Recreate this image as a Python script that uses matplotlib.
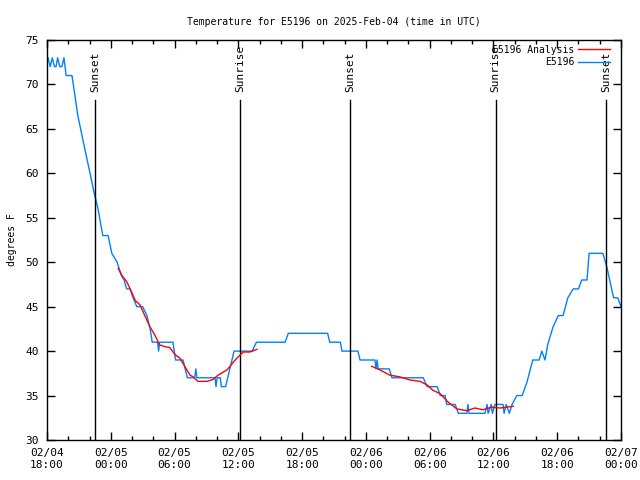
import matplotlib
matplotlib.use("Agg")
import matplotlib.pyplot as plt
import numpy as np

# hours since 02/04 18:00 UTC
obs_h = [0.1, 0.3, 0.5, 0.7, 0.85, 1.0, 1.2, 1.4, 1.6, 1.8, 2.35, 2.9, 3.6, 4.05, 4.4,
         4.8, 5.25, 5.75, 6.1, 6.6, 7.0, 7.25, 7.5, 7.8, 8.1, 8.45, 9.0, 9.4, 9.7, 9.9,
         10.4, 10.5, 10.6, 11.85, 12.1, 12.8, 13.2, 13.9, 14.0, 14.1, 15.8, 15.9, 16.0,
         16.3, 16.4, 16.8, 17.2, 17.6, 19.3, 19.7, 22.4, 22.7, 26.4, 26.6, 27.6, 27.75,
         29.25, 29.45, 30.85, 30.95, 31.05, 31.15, 32.2, 32.45, 35.4, 35.75, 36.7, 37.0,
         37.45, 37.6, 38.4, 38.7, 39.5, 39.6, 39.7, 41.2, 41.4, 41.5, 41.8, 41.9, 42.15,
         42.3, 42.9, 43.0, 43.2, 43.5, 43.75, 44.2, 44.7, 45.15, 45.7, 46.3, 46.55, 46.85,
         47.1, 47.6, 48.1, 48.55, 49.0, 49.5, 50.0, 50.3, 50.8, 51.0, 52.3, 52.7, 53.3,
         53.7, 54.0]
obs_t = [73, 72, 73, 72, 72, 73, 72, 72, 73, 71, 71, 66.5, 62.5, 60, 58,
         56, 53, 53, 51, 50, 48.5, 48, 47, 47, 46, 45, 45, 44, 42.5, 41,
         41, 40, 41, 41, 39, 39, 37, 37, 38, 37, 37, 36, 37,
         37, 36, 36, 38, 40, 40, 41, 41, 42, 42, 41, 41, 40,
         40, 39, 39, 38, 39, 38, 38, 37, 37, 36, 36, 35,
         35, 34, 34, 33, 33, 34, 33, 33, 34, 33, 34, 33, 34,
         34, 34, 33, 34, 33, 34, 35, 35, 36.5, 39, 39, 40, 39,
         40.7, 42.7, 44, 44, 46, 47, 47, 48, 48, 51, 51, 49.3, 46,
         46, 45]

ana_h = [6.7, 7.05, 7.5, 7.9, 8.3, 8.75, 9.2, 9.7, 10.15, 10.6, 11.1, 11.55, 12.05,
         12.5, 13.0, 13.45, 13.75, 14.2, 15.05, 15.6, 16.1, 16.95, 17.7, 18.45, 19.1,
         19.75, np.nan,
         30.55, 31.3, 32.25, 33.2, 34.15, 35.1, 35.75, 36.3, 37.0, 37.7, 38.55, 39.5,
         40.25, 41.0, 41.85, 42.6, 43.3, 43.85]
ana_t = [49.3, 48.5, 47.8, 46.8, 45.7, 45.2, 44, 42.7, 41.8, 40.7, 40.5, 40.4, 39.6,
         39.2, 38.2, 37.3, 37.1, 36.6, 36.6, 36.8, 37.3, 37.9, 39, 39.9, 39.9,
         40.2, np.nan,
         38.3, 37.9, 37.3, 37.1, 36.75, 36.6, 36.2, 35.6, 35.2, 34.3, 33.5, 33.3,
         33.6, 33.4, 33.7, 33.6, 33.7, 33.8]

sun_h = [4.5, 18.15, 28.5, 42.2, 52.6]
sun_lbl = ["Sunset", "Sunrise", "Sunset", "Sunrise", "Sunset"]

xtick_h = [0, 6, 12, 18, 24, 30, 36, 42, 48, 54]
xtick_lbl = ["02/04\n18:00", "02/05\n00:00", "02/05\n06:00", "02/05\n12:00",
             "02/05\n18:00", "02/06\n00:00", "02/06\n06:00", "02/06\n12:00",
             "02/06\n18:00", "02/07\n00:00"]

plt.rcParams['font.family'] = 'DejaVu Sans Mono'
plt.rcParams['font.size'] = 8

fig = plt.figure(figsize=(6.4, 4.8), dpi=100)
ax = fig.add_axes([47/640, 40/480, 574/640, 400/480])

ax.plot(ana_h, ana_t, color='#ff0000', lw=1, label="E5196 Analysis", zorder=3)
ax.plot(obs_h, obs_t, color='#0080ff', lw=1, label="E5196", zorder=2)

for h, s in zip(sun_h, sun_lbl):
    ax.plot([h, h], [30, 68.3], color='black', lw=1)
    ax.text(h, 69.2, s, rotation=90, ha='center', va='bottom')

ax.set_xlim(0, 54)
ax.set_ylim(30, 75)
ax.set_xticks(xtick_h)
ax.set_xticklabels(xtick_lbl)
ax.set_xticks(np.arange(0, 55, 2), minor=True)
ax.set_yticks(np.arange(30, 76, 5))
ax.tick_params(direction='in', top=True, right=True, length=6, width=1, pad=6)
ax.tick_params(which='minor', direction='in', top=True, length=3, width=1)
for sp in ax.spines.values():
    sp.set_linewidth(1)

ax.set_ylabel("degrees F", fontsize=7, labelpad=6)
ax.set_title("Temperature for E5196 on 2025-Feb-04 (time in UTC)", fontsize=7, pad=11)
ax.legend(loc='upper right', bbox_to_anchor=(1 - 3.5/574, 1 + 3/400), frameon=False,
          markerfirst=False, handlelength=3.3, borderaxespad=0.4, labelspacing=0.25,
          handletextpad=0.3, fontsize=7)

fig.savefig("out.png", dpi=100)
